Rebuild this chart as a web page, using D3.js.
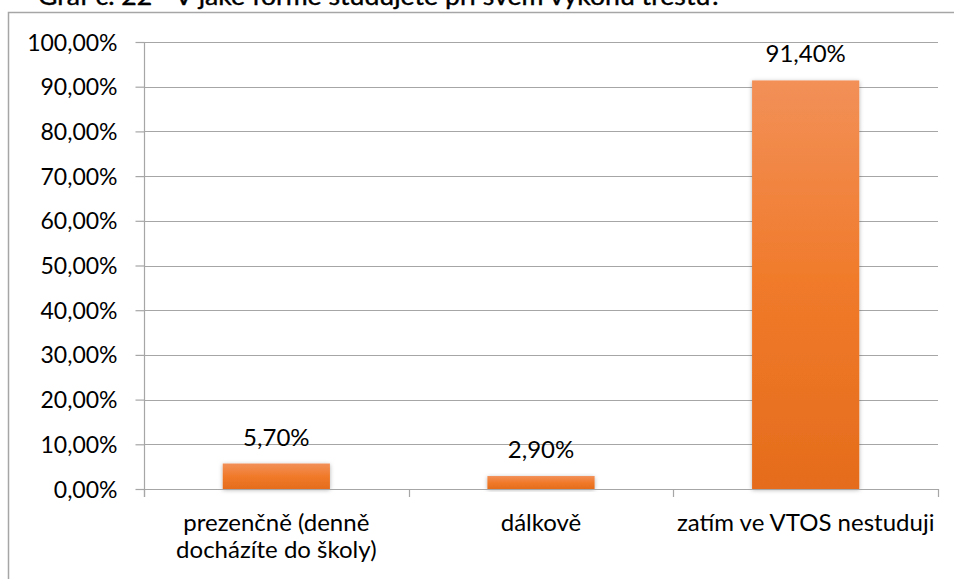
<!DOCTYPE html>
<html><head><meta charset="utf-8">
<script src="https://cdn.jsdelivr.net/npm/d3@7/dist/d3.min.js"></script>
<style>body{margin:0;background:#fff}svg{display:block}text{font-family:Lato,"Open Sans",sans-serif;fill:#000}</style>
</head><body><svg id="c" width="954" height="579"></svg>
<script>
const title = "Graf č. 22 - V jaké formě studujete při svém výkonu trestu?";
const categories = [["prezenčně (denně","docházíte do školy)"],["dálkově"],["zatím ve VTOS nestuduji"]];
const values = [5.7, 2.9, 91.4];
const valueLabels = ["5,70%","2,90%","91,40%"];
const yTicks = [0,10,20,30,40,50,60,70,80,90,100];
const yTickLabels = ["0,00%","10,00%","20,00%","30,00%","40,00%","50,00%","60,00%","70,00%","80,00%","90,00%","100,00%"];

const svg = d3.select("#c");
const L = 144, R = 938, T = 42, B = 489;
const x = d3.scaleBand().domain(d3.range(categories.length)).range([L, R]).paddingInner(0.595).paddingOuter(0.2975);
const y = d3.scaleLinear().domain([0, 100]).range([B, T]);

const defs = svg.append("defs");
const g = defs.append("linearGradient").attr("id","bg").attr("x1",0).attr("y1",0).attr("x2",0).attr("y2",1);
g.append("stop").attr("offset","0%").attr("stop-color","#F29058");
g.append("stop").attr("offset","50%").attr("stop-color","#F07A2A");
g.append("stop").attr("offset","100%").attr("stop-color","#E46C1C");
const f = defs.append("filter").attr("id","sh").attr("x","-20%").attr("y","-20%").attr("width","140%").attr("height","140%");
f.append("feDropShadow").attr("dx",0).attr("dy",1).attr("stdDeviation",2).attr("flood-color","#000").attr("flood-opacity",0.3);

// title (cut off at top, as in the reference)
svg.append("text").attr("x",38).attr("y",5).attr("font-size",25).attr("font-weight","normal")
  .attr("stroke","#000").attr("stroke-width",0.4)
  .attr("textLength",684).attr("lengthAdjust","spacingAndGlyphs").text(title);

// outer border
svg.append("rect").attr("x",8.5).attr("y",12.5).attr("width",960).attr("height",600)
  .attr("fill","none").attr("stroke","#a6a6a6").attr("stroke-width",1.5);

// gridlines
svg.append("g").selectAll("line").data(yTicks.slice(1)).join("line")
  .attr("x1",L).attr("x2",R).attr("y1",d=>Math.round(y(d))+0.5).attr("y2",d=>Math.round(y(d))+0.5)
  .attr("stroke","#a6a6a6").attr("stroke-width",1.2);

// y axis
const ya = svg.append("g").attr("transform",`translate(${L+0.5},0)`)
  .call(d3.axisLeft(y).tickValues(yTicks).tickFormat((d,i)=>yTickLabels[i]).tickSize(9).tickPadding(18));
ya.select(".domain").attr("d",`M0,${T}V${B+8}`).attr("stroke","#a6a6a6").attr("stroke-width",1.2);
ya.selectAll(".tick line").attr("stroke","#a6a6a6").attr("stroke-width",1.2);
ya.selectAll(".tick text").attr("font-size",23).attr("font-family","Lato,sans-serif").attr("fill","#000").attr("dy","0.35em");

// bars
svg.append("g").selectAll("rect").data(values).join("rect")
  .attr("x",(d,i)=>x(i)).attr("width",x.bandwidth())
  .attr("y",d=>y(d)).attr("height",d=>B-y(d))
  .attr("fill","url(#bg)").attr("filter","url(#sh)");

// x axis
const bw = (R-L)/categories.length;
const xa = svg.append("g");
xa.append("line").attr("x1",L).attr("x2",R+0.5).attr("y1",B+0.5).attr("y2",B+0.5).attr("stroke","#a6a6a6").attr("stroke-width",1.2);
xa.selectAll(".xt").data(d3.range(categories.length+1)).join("line").attr("class","xt")
  .attr("x1",i=>Math.round(L+i*bw)+0.5).attr("x2",i=>Math.round(L+i*bw)+0.5)
  .attr("y1",B).attr("y2",B+8).attr("stroke","#a6a6a6").attr("stroke-width",1.2);
categories.forEach((lines,i)=>{
  const cx = x(i)+x.bandwidth()/2;
  const t = xa.append("text").attr("text-anchor","middle").attr("font-size",24)
    .attr("x",cx).attr("y",531);
  lines.forEach((ln,j)=>t.append("tspan").attr("x",cx).attr("dy",j?27:0).text(ln));
});

// value labels
svg.append("g").selectAll("text").data(values).join("text")
  .attr("text-anchor","middle").attr("font-size",24)
  .attr("x",(d,i)=>x(i)+x.bandwidth()/2).attr("y",d=>y(d)-18)
  .text((d,i)=>valueLabels[i]);
</script></body></html>
